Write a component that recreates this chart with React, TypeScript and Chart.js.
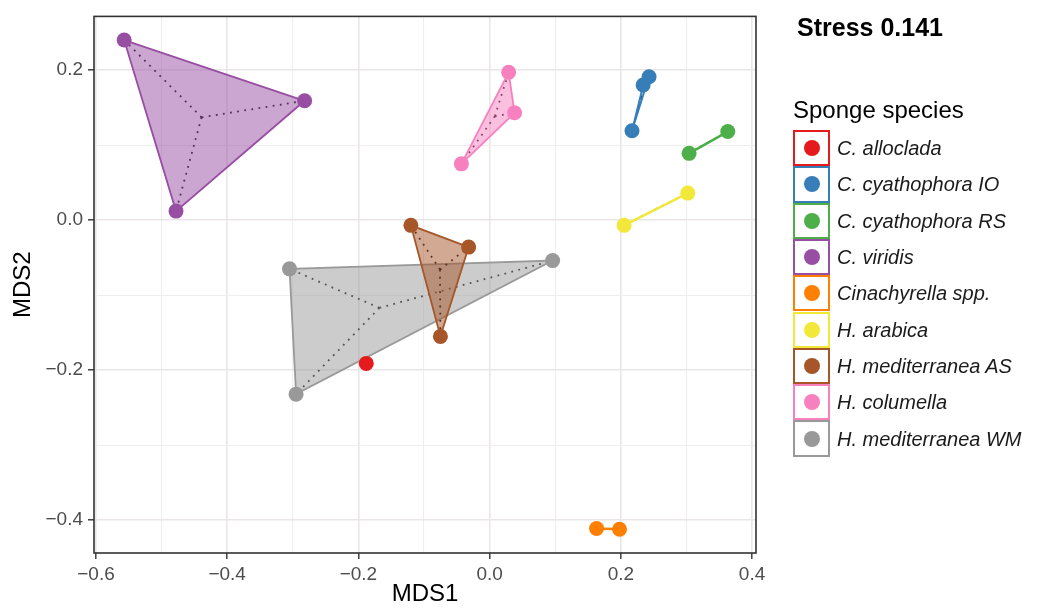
import React, { useEffect, useRef } from "react";
import { Chart, registerables } from "chart.js";

Chart.register(...registerables);

// ---------------- DATA ----------------
const SPECIES = [
  "C. alloclada",
  "C. cyathophora IO",
  "C. cyathophora RS",
  "C. viridis",
  "Cinachyrella spp.",
  "H. arabica",
  "H. mediterranea AS",
  "H. columella",
  "H. mediterranea WM",
];
const COLORS = ["#E41A1C", "#377EB8", "#4DAF4A", "#984EA3", "#FF7F00", "#F2E83A", "#A65628", "#F781BF", "#999999"];

const MDS1_ALLOCLADA = [-0.188];
const MDS2_ALLOCLADA = [-0.191];
const MDS1_CYATH_IO = [0.243, 0.234, 0.217];
const MDS2_CYATH_IO = [0.191, 0.18, 0.119];
const MDS1_CYATH_RS = [0.363, 0.304];
const MDS2_CYATH_RS = [0.118, 0.089];
const MDS1_VIRIDIS = [-0.557, -0.282, -0.478];
const MDS2_VIRIDIS = [0.24, 0.159, 0.012];
const MDS1_CINACHY = [0.163, 0.198];
const MDS2_CINACHY = [-0.411, -0.412];
const MDS1_ARABICA = [0.302, 0.205];
const MDS2_ARABICA = [0.036, -0.007];
const MDS1_MED_AS = [-0.12, -0.032, -0.075];
const MDS2_MED_AS = [-0.007, -0.036, -0.155];
const MDS1_COLUMELLA = [0.029, 0.038, -0.043];
const MDS2_COLUMELLA = [0.197, 0.143, 0.075];
const MDS1_MED_WM = [0.096, -0.305, -0.295];
const MDS2_MED_WM = [-0.054, -0.065, -0.232];

const MDS1_VALUES = [MDS1_ALLOCLADA, MDS1_CYATH_IO, MDS1_CYATH_RS, MDS1_VIRIDIS, MDS1_CINACHY, MDS1_ARABICA, MDS1_MED_AS, MDS1_COLUMELLA, MDS1_MED_WM];
const MDS2_VALUES = [MDS2_ALLOCLADA, MDS2_CYATH_IO, MDS2_CYATH_RS, MDS2_VIRIDIS, MDS2_CINACHY, MDS2_ARABICA, MDS2_MED_AS, MDS2_COLUMELLA, MDS2_MED_WM];

const X_MAJOR = [-0.6, -0.4, -0.2, 0.0, 0.2, 0.4];
const X_MINOR = [-0.5, -0.3, -0.1, 0.1, 0.3];
const Y_MAJOR = [-0.4, -0.2, 0.0, 0.2];
const Y_MINOR = [-0.3, -0.1, 0.1];
const X_RANGE = [-0.603, 0.406];
const Y_RANGE = [-0.4437, 0.2715];

const STRESS_LABEL = "Stress 0.141";
const LEGEND_TITLE = "Sponge species";
const X_TITLE = "MDS1";
const Y_TITLE = "MDS2";

// ---------------- helpers ----------------
type P = { x: number; y: number };

function convexHull(pts: P[]): P[] {
  const s = [...pts].sort((a, b) => (a.x === b.x ? a.y - b.y : a.x - b.x));
  if (s.length < 3) return s;
  const cross = (o: P, a: P, b: P) => (a.x - o.x) * (b.y - o.y) - (a.y - o.y) * (b.x - o.x);
  const lower: P[] = [];
  for (const p of s) {
    while (lower.length >= 2 && cross(lower[lower.length - 2], lower[lower.length - 1], p) <= 0) lower.pop();
    lower.push(p);
  }
  const upper: P[] = [];
  for (let i = s.length - 1; i >= 0; i--) {
    const p = s[i];
    while (upper.length >= 2 && cross(upper[upper.length - 2], upper[upper.length - 1], p) <= 0) upper.pop();
    upper.push(p);
  }
  upper.pop();
  lower.pop();
  return lower.concat(upper);
}

function hexA(hex: string, a: number) {
  const n = parseInt(hex.slice(1), 16);
  return `rgba(${(n >> 16) & 255},${(n >> 8) & 255},${n & 255},${a})`;
}

const isIn = (v: number, arr: number[]) => arr.some((m) => Math.abs(m - v) < 1e-6);
const fmt = (v: number) => (v < -1e-9 ? "\u2212" : "") + Math.abs(v).toFixed(1);

const FONT = "'Liberation Sans', Arial, Helvetica, sans-serif";

const panelBorder = {
  id: "panelBorder",
  afterDatasetsDraw(chart: any) {
    const { ctx, chartArea } = chart;
    ctx.save();
    ctx.strokeStyle = "#333333";
    ctx.lineWidth = 1.6;
    ctx.strokeRect(chartArea.left, chartArea.top, chartArea.right - chartArea.left, chartArea.bottom - chartArea.top);
    ctx.restore();
  },
};

export default function App() {
  const ref = useRef<HTMLCanvasElement | null>(null);

  useEffect(() => {
    if (!ref.current) return;
    const groups = SPECIES.map((name, i) => {
      const pts = MDS1_VALUES[i].map((x, k) => ({ x, y: MDS2_VALUES[i][k] }));
      return { name, color: COLORS[i], pts };
    });

    const datasets: any[] = [];
    // points on top, legend order
    groups.forEach((g) => {
      datasets.push({
        type: "scatter",
        label: g.name,
        data: g.pts,
        backgroundColor: g.color,
        borderWidth: 0,
        pointRadius: 7.5,
        pointHoverRadius: 7.5,
        showLine: false,
        order: 0,
      });
    });
    // spiders then hulls per group; drawing sequence reversed legend order
    const seq = groups.map((_, i) => i).reverse();
    seq.forEach((gi, s) => {
      const g = groups[gi];
      if (g.pts.length < 2) return;
      const h = convexHull(g.pts);
      const closed = h.concat([h[0]]);
      datasets.push({
        type: "line",
        label: g.name + " hull",
        data: closed,
        borderColor: g.color,
        backgroundColor: hexA(g.color, 0.5),
        borderWidth: g.pts.length < 3 ? 2.6 : 1.8,
        fill: "shape",
        pointRadius: 0,
        tension: 0,
        order: 1000 - 10 * s - 1,
      });
      const cx = g.pts.reduce((a, p) => a + p.x, 0) / g.pts.length;
      const cy = g.pts.reduce((a, p) => a + p.y, 0) / g.pts.length;
      g.pts.forEach((p, k) => {
        datasets.push({
          type: "line",
          label: g.name + " spider " + k,
          data: [{ x: cx, y: cy }, p],
          borderColor: "#111111",
          borderWidth: 1.8,
          borderDash: [1.8, 5.4],
          fill: false,
          pointRadius: 0,
          tension: 0,
          order: 1000 - 10 * s,
        });
      });
    });

    const gridColor = (major: number[]) => (ctx: any) =>
      ctx.tick && isIn(ctx.tick.value, major) ? "#EAE6E6" : "#F0EDED";
    const gridWidth = (major: number[]) => (ctx: any) => (ctx.tick && isIn(ctx.tick.value, major) ? 1.6 : 1.1);
    const tickColor = (major: number[]) => (ctx: any) =>
      ctx.tick && isIn(ctx.tick.value, major) ? "#333333" : "rgba(0,0,0,0)";

    const chart = new Chart(ref.current, {
      type: "scatter",
      data: { datasets },
      plugins: [panelBorder],
      options: {
        animation: false,
        responsive: false,
        events: [],
        layout: { padding: { left: 0, top: 13, right: 281, bottom: 0 } },
        plugins: {
          legend: { display: false },
          tooltip: { enabled: false },
        },
        scales: {
          x: {
            type: "linear",
            min: X_RANGE[0],
            max: X_RANGE[1],
            afterBuildTicks: (scale: any) => {
              scale.ticks = [...X_MAJOR, ...X_MINOR].sort((a, b) => a - b).map((v) => ({ value: v }));
            },
            afterFit: (scale: any) => {
              scale.height = 56;
            },
            ticks: {
              autoSkip: false,
              maxRotation: 0,
              padding: 4,
              color: "#4D4D4D",
              font: { family: FONT, size: 19 },
              callback: (v: any) => (isIn(Number(v), X_MAJOR) ? fmt(Number(v)) : ""),
            },
            grid: {
              color: gridColor(X_MAJOR),
              lineWidth: gridWidth(X_MAJOR),
              tickColor: tickColor(X_MAJOR),
              tickLength: 6,
              tickWidth: 1.4,
            },
            border: { display: false },
            title: {
              display: true,
              text: X_TITLE,
              color: "#000000",
              font: { family: FONT, size: 24 },
              padding: { top: 0, bottom: 0 },
            },
          },
          y: {
            type: "linear",
            min: Y_RANGE[0],
            max: Y_RANGE[1],
            afterBuildTicks: (scale: any) => {
              scale.ticks = [...Y_MAJOR, ...Y_MINOR].sort((a, b) => a - b).map((v) => ({ value: v }));
            },
            afterFit: (scale: any) => {
              scale.width = 94;
            },
            ticks: {
              autoSkip: false,
              padding: 5,
              color: "#4D4D4D",
              font: { family: FONT, size: 19 },
              callback: (v: any) => (isIn(Number(v), Y_MAJOR) ? fmt(Number(v)) : ""),
            },
            grid: {
              color: gridColor(Y_MAJOR),
              lineWidth: gridWidth(Y_MAJOR),
              tickColor: tickColor(Y_MAJOR),
              tickLength: 6,
              tickWidth: 1.4,
            },
            border: { display: false },
            title: {
              display: true,
              text: Y_TITLE,
              color: "#000000",
              font: { family: FONT, size: 24 },
              padding: { top: 8.5, bottom: 0 },
            },
          },
        },
      } as any,
    });
    return () => chart.destroy();
  }, []);

  const ROW_TOP = 130;
  const ROW_H = 36.3;

  return (
    <div style={{ position: "absolute", left: 0, top: 0, width: 1037, height: 609, background: "#FFFFFF", fontFamily: FONT }}>
      <canvas ref={ref} width={1037} height={609} style={{ position: "absolute", left: 0, top: 0, width: 1037, height: 609 }} />
      <div style={{ position: "absolute", left: 797, top: 15, fontSize: 25, lineHeight: "25px", fontWeight: "bold", color: "#000", whiteSpace: "nowrap" }}>
        {STRESS_LABEL}
      </div>
      <div style={{ position: "absolute", left: 793, top: 98, fontSize: 24, lineHeight: "24px", color: "#000", whiteSpace: "nowrap" }}>
        {LEGEND_TITLE}
      </div>
      {SPECIES.map((name, i) => (
        <div key={name} style={{ position: "absolute", left: 793, top: ROW_TOP + i * ROW_H, height: ROW_H, display: "flex", alignItems: "center" }}>
          <div
            style={{
              boxSizing: "border-box",
              width: 37,
              height: ROW_H,
              border: `2.5px solid ${COLORS[i]}`,
              background: "#FFFFFF",
              display: "flex",
              alignItems: "center",
              justifyContent: "center",
            }}
          >
            <div style={{ width: 16, height: 16, borderRadius: 8, background: COLORS[i] }} />
          </div>
          <div style={{ marginLeft: 7, fontSize: 20, fontStyle: "italic", color: "#1A1A1A", whiteSpace: "nowrap", lineHeight: "20px" }}>{name}</div>
        </div>
      ))}
    </div>
  );
}
